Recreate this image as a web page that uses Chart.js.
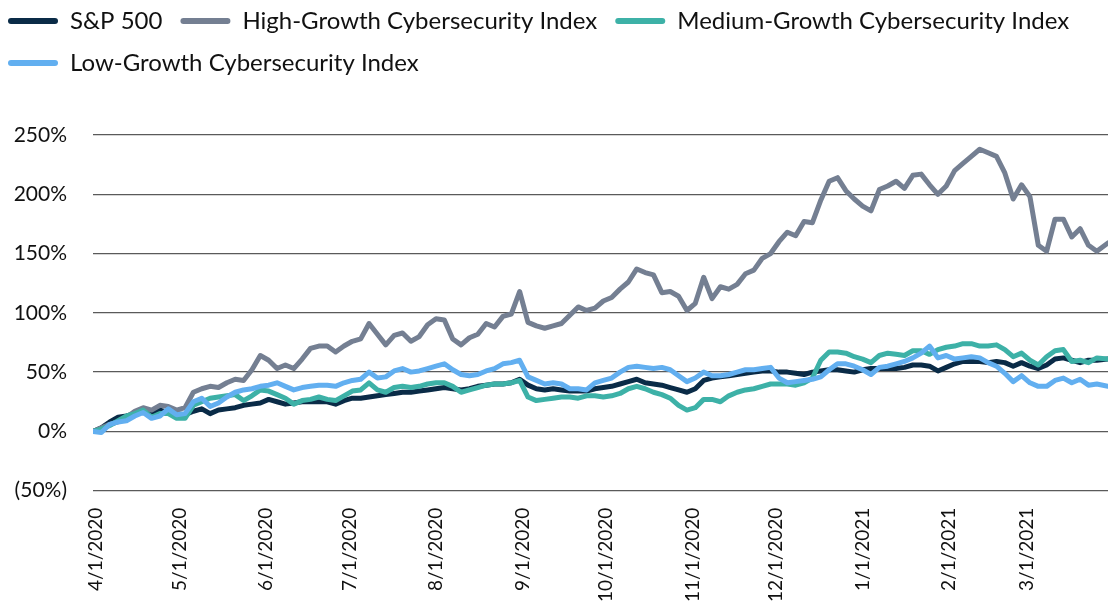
<!DOCTYPE html>
<html>
<head>
<meta charset="utf-8">
<script src="https://cdn.jsdelivr.net/npm/chart.js@4.4.1/dist/chart.umd.min.js"></script>
<style>
  html, body { margin: 0; padding: 0; background: #fff; }
  #wrap { width: 1115px; height: 601px; }
</style>
</head>
<body>
<div id="wrap"><canvas id="chart"></canvas></div>
<script>
/* Days since 3/31/2020 (sampled every 3 days) */
const days = [0,3,6,9,12,15,18,21,24,27,30,33,36,39,42,45,48,51,54,57,60,63,66,69,72,75,78,81,84,87,
  90,93,96,99,102,105,108,111,114,117,120,123,126,129,132,135,138,141,144,147,150,153,156,159,162,165,168,171,174,177,
  180,183,186,189,192,195,198,201,204,207,210,213,216,219,222,225,228,231,234,237,240,243,246,249,252,255,258,261,264,267,
  270,273,276,279,282,285,288,291,294,297,300,303,306,309,312,315,318,321,324,327,330,333,336,339,342,345,348,351,354,357,
  360,364];

/* Month ticks */
const monthDays = [1, 31, 62, 92, 123, 154, 184, 215, 245, 276, 307, 335];
const monthLabels = ['4/1/2020', '5/1/2020', '6/1/2020', '7/1/2020', '8/1/2020', '9/1/2020',
  '10/1/2020', '11/1/2020', '12/1/2020', '1/1/2021', '2/1/2021', '3/1/2021'];

/* Cumulative return, % */
const sp500 = [0,3,8,12,13,15,17,16,18,16, 15,14,17,19,15,18,19,20,22,23,
  24,27,25,23,24,25,25,25,25,23, 26,28,28,29,30,31,32,33,33,34,
  35,36,37,36,35,36,38,39,40,40, 41,44,39,36,35,36,35,34,34,34,
  36,37,38,40,42,44,41,40,39,37, 35,33,36,43,45,46,47,48,49,50,
  51,51,50,50,49,48,50,51,52,52, 51,50,52,53,53,53,53,54,56,56,
  55,51,54,57,59,59,59,58,59,58, 55,58,55,53,56,61,62,60,58,60,
  60,61];

const highGrowth = [0,3,6,8,12,17,20,18,22,21, 18,20,33,36,38,37,41,44,43,52,
  64,60,53,56,53,61,70,72,72,67, 72,76,78,91,82,73,81,83,76,80,
  90,95,94,78,73,79,82,91,88,97, 99,118,92,89,87,89,91,98,105,102,
  104,110,113,120,126,137,134,132,117,118, 114,102,108,130,112,122,120,124,133,136,
  146,150,160,168,165,177,176,195,211,214, 203,196,190,186,204,207,211,205,216,217,
  208,200,207,220,226,232,238,235,232,218, 196,208,198,157,152,179,179,164,171,157,
  152,159];

const mediumGrowth = [0,2,5,9,13,15,18,12,15,15, 11,11,22,25,28,29,30,31,26,30,
  35,34,31,28,23,26,27,29,27,26, 30,34,35,41,35,33,37,38,37,38,
  40,41,41,38,33,35,37,39,40,40, 41,43,29,26,27,28,29,29,28,30,
  30,29,30,32,36,38,36,33,31,28, 22,18,20,27,27,25,30,33,35,36,
  38,40,40,40,39,41,45,60,67,67, 66,63,61,58,64,66,65,64,68,68,
  65,69,71,72,74,74,72,72,73,69, 63,66,60,56,63,68,69,59,60,58,
  62,61];

const lowGrowth = [0,-1,6,8,9,13,16,11,13,19, 14,15,25,28,21,24,29,33,35,36,
  38,39,41,38,35,37,38,39,39,38, 41,43,44,50,45,46,51,53,50,51,
  53,55,57,52,48,47,48,51,53,57, 58,60,46,43,40,41,40,36,36,35,
  41,43,45,50,54,55,54,53,54,52, 47,42,45,50,47,47,48,50,52,52,
  53,54,45,41,42,43,44,46,52,57, 57,55,52,48,54,55,57,59,62,66,
  72,62,64,61,62,63,62,58,55,49, 42,47,41,38,38,43,45,41,44,39,
  40,38];

const seriesNames = ['S&P 500', 'High-Growth Cybersecurity Index',
  'Medium-Growth Cybersecurity Index', 'Low-Growth Cybersecurity Index'];
const seriesColors = ['#0a2b47', '#747f92', '#3db1a7', '#62aff0'];

/* Helpers */
function toPoints(values) {
  return days.map((d, i) => ({ x: d, y: values[i] }));
}

function makeDataset(index, values, drawOrder) {
  return {
    label: seriesNames[index],
    data: toPoints(values),
    borderColor: seriesColors[index],
    backgroundColor: seriesColors[index],
    borderWidth: 5,
    borderCapStyle: 'round',
    borderJoinStyle: 'round',
    pointRadius: 0,
    tension: 0,
    order: drawOrder
  };
}

/* push the plot area down below the legend */
const legendSpace = {
  id: 'legendSpace',
  beforeInit(chart) {
    const fit = chart.legend.fit;
    chart.legend.fit = function () {
      fit.call(this);
      this.height += 50;
    };
  }
};

Chart.defaults.font.family = 'Lato, "Open Sans", sans-serif';
Chart.defaults.color = '#111';

new Chart(document.getElementById('chart'), {
  type: 'line',
  data: {
    datasets: [
      makeDataset(0, sp500, 3),
      makeDataset(1, highGrowth, 2),
      makeDataset(2, mediumGrowth, 1),
      makeDataset(3, lowGrowth, 0)
    ]
  },
  options: {
    responsive: true,
    maintainAspectRatio: false,
    animation: false,
    layout: { padding: { left: -10, top: -9, right: 7, bottom: -10 } },
    plugins: {
      tooltip: { enabled: false },
      legend: {
        position: 'top',
        align: 'start',
        labels: {
          sort: (a, b) => a.datasetIndex - b.datasetIndex,
          boxWidth: 50,
          boxHeight: 6,
          useBorderRadius: true,
          borderRadius: 3,
          padding: 18,
          color: '#111',
          font: { size: 24 },
          generateLabels: (chart) =>
            Chart.defaults.plugins.legend.labels.generateLabels(chart)
              .map(item => Object.assign(item, { lineWidth: 0 }))
        }
      }
    },
    scales: {
      x: {
        type: 'linear',
        min: 0,
        max: 364,
        afterBuildTicks: (scale) => {
          scale.ticks = monthDays.map(v => ({ value: v }));
        },
        ticks: {
          autoSkip: false,
          maxRotation: 90,
          minRotation: 90,
          padding: 9,
          font: { size: 19 },
          color: '#111',
          callback: (v) => monthLabels[monthDays.indexOf(v)]
        },
        grid: { display: false },
        border: { display: false }
      },
      y: {
        min: -50,
        max: 250,
        afterFit: (scale) => { scale.width = 103; },
        ticks: {
          stepSize: 50,
          padding: 26,
          font: { size: 21 },
          color: '#111',
          callback: (v) => v < 0 ? '(' + Math.abs(v) + '%)' : v + '%'
        },
        grid: { color: '#5a5a5a', lineWidth: 1.3, drawTicks: false },
        border: { display: false }
      }
    }
  },
  plugins: [legendSpace]
});
</script>
</body>
</html>
